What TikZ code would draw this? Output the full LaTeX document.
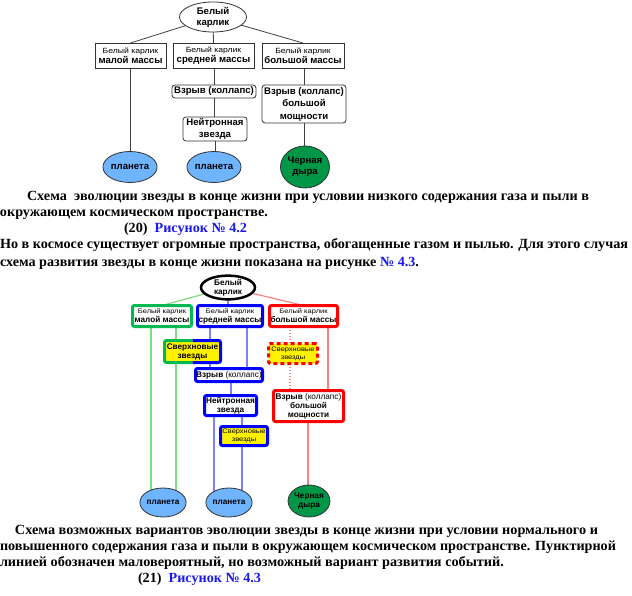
\documentclass[tikz,border=0pt]{standalone}
\usepackage{fontspec}
\setmainfont{Liberation Sans}
\newfontfamily\capfont{Liberation Serif}
\newfontfamily\widesans[FakeStretch=1.15]{Liberation Sans}
\usetikzlibrary{shapes.geometric,backgrounds}
\definecolor{planetblue}{RGB}{110,180,255}
\definecolor{holegreen}{RGB}{0,150,72}
\definecolor{bgreen}{RGB}{0,185,80}
\definecolor{lgreen}{RGB}{128,220,128}
\definecolor{lblue}{RGB}{128,128,255}
\definecolor{lred}{RGB}{255,128,128}
\definecolor{capblue}{RGB}{25,25,235}
\newcommand\tsm{\widesans\fontsize{7.5}{10}\selectfont\mdseries}
\newcommand\tbig{\fontsize{9.6}{11}\selectfont\bfseries}
\newcommand\tbigten{\fontsize{9.6}{10}\selectfont\bfseries}
\newcommand\tbigtw{\fontsize{9.6}{12.5}\selectfont\bfseries}
\newcommand\bsm{\widesans\fontsize{6.5}{8}\selectfont\mdseries}
\newcommand\bbig{\fontsize{8.2}{9}\selectfont\bfseries}
\newcommand\captxt{\capfont\fontsize{14}{16}\selectfont\bfseries}
\newcommand\fitline[2]{\resizebox{#1pt}{\height}{#2}}
\begin{document}
\begin{tikzpicture}[x=1pt,y=-1pt,
  tline/.style={draw=black!75, line width=0.8pt},
  sq/.style={draw=black!80, fill=white, line width=0.8pt, inner sep=0pt, outer sep=0pt, align=center, font=\tbig},
  rbox/.style={sq, rounded corners=3pt},
  oval/.style={ellipse, draw=black!80, line width=0.8pt, inner sep=0pt, outer sep=0pt, align=center, font=\tbig},
  planet/.style={oval, fill=planetblue},
  hole/.style={oval, fill=holegreen},
  thk/.style={line width=3pt, fill=white, inner sep=0pt, outer sep=0pt, align=center, font=\bbig, rounded corners=2pt},
  snova/.style={thk, fill=yellow},
  glin/.style={draw=lgreen, line width=1.2pt},
  blin/.style={draw=lblue, line width=1.2pt},
  rlin/.style={draw=lred, line width=1.2pt},
  rdot/.style={draw=lred, line width=1.2pt, dash pattern=on 1.5pt off 1.5pt},
  captext/.style={anchor=base west, inner sep=0pt, outer sep=0pt, font=\captxt}
]
\useasboundingbox (0,0) rectangle (632,596);

% ---------------- top diagram ----------------
\node[oval, fill=white, minimum width=67, minimum height=30] (e1) at (213,17) {Белый\\карлик};
\node[sq, font=\tbigten, minimum width=71, minimum height=25] (b1) at (130.5,55.5) {{\tsm Белый карлик}\\малой массы};
\node[sq, font=\tbigten, minimum width=81, minimum height=25] (b2) at (213.5,55.5) {{\tsm Белый карлик}\\средней массы};
\node[sq, font=\tbigten, minimum width=82, minimum height=25] (b3) at (303,55.5) {{\tsm Белый карлик}\\большой массы};
\node[rbox, minimum width=84, minimum height=13] (v1) at (214,91.5) {Взрыв (коллапс)};
\node[rbox, font=\fontsize{9.6}{12}\selectfont\bfseries, minimum width=64, minimum height=24] (n1) at (215,129) {Нейтронная\\звезда};
\node[rbox, font=\tbigtw, minimum width=84, minimum height=38] (v2) at (304,104) {Взрыв (коллапс)\\большой\\мощности};
\node[planet, minimum width=45, minimum height=31] (p1) at (130,167) {планета};
\node[planet, minimum width=46, minimum height=31] (p2) at (214,167) {планета};
\node[hole, minimum width=46, minimum height=42] (bh) at (305,167) {Черная\\дыра};

\begin{scope}[on background layer]
\draw[tline] (e1) -- (b1.north);
\draw[tline] (e1) -- (b2.north);
\draw[tline] (e1) -- (b3.north);
\draw[tline] (b1.south) -- (b1.south |- p1.center);
\draw[tline] (v1.north |- b2.south) -- (v1.north);
\draw[tline] (v1.south) -- (v1.south |- n1.north);
\draw[tline] (n1.south) -- (n1.south |- p2.center);
\draw[tline] (v2.north |- b3.south) -- (v2.north);
\draw[tline] (v2.south) -- (v2.south |- bh.center);
\end{scope}

% ---------------- captions top ----------------
\node[captext] (c1) at (27,201) {\fitline{562}{Схема\ \ эволюции звезды в конце жизни при условии низкого содержания газа и пыли в}};
\node[captext] (c2) at (0,217) {\fitline{268}{окружающем космическом пространстве.}};
\node[captext] (c3) at (124,233) {\fitline{123}{(20)\ \ \textcolor{capblue}{Рисунок № 4.2}}};
\node[captext] (c4) at (0,249) {\fitline{628}{Но в космосе существует огромные пространства, обогащенные газом и пылью. Для этого случая}};
\node[captext] (c5) at (0,266) {\fitline{419}{схема развития звезды в конце жизни показана на рисунке \textcolor{capblue}{№ 4.3}.}};

% ---------------- bottom diagram ----------------
\node[ellipse, draw=black, line width=2.5pt, fill=white, inner sep=0pt, outer sep=0pt, align=center, font=\bbig, minimum width=54, minimum height=22] (E2) at (228,287.5) {Белый\\карлик};
\node[thk, draw=bgreen, minimum width=59, minimum height=21] (G) at (162,316) {{\bsm Белый карлик}\\малой массы};
\node[thk, draw=blue, minimum width=65, minimum height=21] (B) at (230,316) {{\bsm Белый карлик}\\средней массы};
\node[thk, draw=red, minimum width=68, minimum height=21] (R) at (303.5,316) {{\bsm Белый карлик}\\большой массы};
\node[snova, minimum width=56, minimum height=22] (S1) at (192.5,351.5) {Сверхновые\\звезды};
\draw[line width=3pt, bgreen, rounded corners=2pt] (S1.north) -- (S1.north west) -- (S1.south west) -- (S1.south);
\draw[line width=3pt, blue, rounded corners=2pt] (S1.north) -- (S1.north east) -- (S1.south east) -- (S1.south);
\node[thk, draw=blue, minimum width=67, minimum height=13] (V) at (229,375) {Взрыв {\mdseries(коллапс)}};
\node[thk, draw=blue, minimum width=52, minimum height=20] (N) at (230.5,405.5) {Нейтронная\\звезда};
\node[snova, draw=blue, minimum width=47, minimum height=19, font=\bsm] (S2) at (244,436) {Сверхновые\\звезды};
\node[snova, draw=red, dash pattern=on 4pt off 3pt, minimum width=49, minimum height=20, font=\bsm] (S3) at (293,353.5) {Сверхновые\\звезды};
\node[thk, draw=red, minimum width=70, minimum height=31] (BR) at (308.5,406) {Взрыв {\mdseries(коллапс)}\\большой\\мощности};
\node[planet, font=\bbig, minimum width=38, minimum height=29] (P1) at (163,502.5) {планета};
\node[planet, font=\bbig, minimum width=38, minimum height=29] (P2) at (229,502.5) {планета};
\node[hole, font=\bbig, minimum width=40, minimum height=32] (BH2) at (309,501) {Черная\\дыра};

\coordinate (xg1) at (151,0);
\coordinate (xg2) at (176,0);
\coordinate (xb1) at (210,0);
\coordinate (xb2) at (247,0);
\coordinate (xb3) at (231,0);
\coordinate (xb4) at (214,0);
\coordinate (xb5) at (242,0);
\coordinate (xr1) at (290,0);
\coordinate (xr2) at (328,0);
\coordinate (xr3) at (308,0);

\begin{scope}[on background layer]
\draw[glin] (E2) -- (G.north);
\draw[blin] (E2.south) -- (E2.south |- B.north);
\draw[rlin] (E2) -- (R.north);
\draw[glin] (xg1 |- G.south) -- (xg1 |- P1.center);
\draw[glin] (xg2 |- G.south) -- (xg2 |- S1.north);
\draw[glin] (xg2 |- S1.south) -- (xg2 |- P1.center);
\draw[blin] (xb1 |- B.south) -- (xb1 |- S1.north);
\draw[blin] (xb1 |- S1.south) -- (xb1 |- V.north);
\draw[blin] (xb2 |- B.south) -- (xb2 |- V.north);
\draw[blin] (xb3 |- V.south) -- (xb3 |- N.north);
\draw[blin] (xb4 |- N.south) -- (xb4 |- P2.center);
\draw[blin] (xb5 |- N.south) -- (xb5 |- S2.north);
\draw[blin] (xb5 |- S2.south) -- (xb5 |- P2.center);
\draw[rdot] (xr1 |- R.south) -- (xr1 |- S3.north);
\draw[rdot] (xr1 |- S3.south) -- (xr1 |- BR.north);
\draw[rlin] (xr2 |- R.south) -- (xr2 |- BR.north);
\draw[rlin] (xr3 |- BR.south) -- (xr3 |- BH2.center);
\end{scope}

% ---------------- captions bottom ----------------
\node[captext] (d1) at (15,534) {\fitline{583}{Схема возможных вариантов эволюции звезды в конце жизни при условии нормального и}};
\node[captext] (d2) at (0,550) {\fitline{616}{повышенного содержания газа и пыли в окружающем космическом пространстве. Пунктирной}};
\node[captext] (d3) at (0,566) {\fitline{504}{линией обозначен маловероятный, но возможный вариант развития событий.}};
\node[captext] (d4) at (138,582) {\fitline{123}{(21)\ \ \textcolor{capblue}{Рисунок № 4.3}}};
\end{tikzpicture}
\end{document}
